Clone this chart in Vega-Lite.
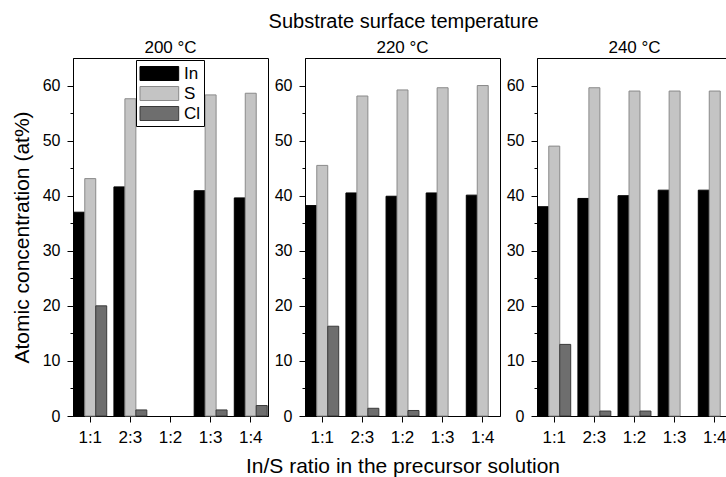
{
  "$schema": "https://vega.github.io/schema/vega-lite/v6.json",
  "background": "white",
  "padding": {"left": 10, "top": 11, "right": 0, "bottom": 4},
  "bounds": "flush",
  "spacing": 37,
  "title": {"text": "Substrate surface temperature", "fontSize": 20, "fontWeight": "normal", "anchor": "middle", "offset": 7, "dx": 32, "color": "black"},
  "config": {
    "font": "Liberation Sans",
    "view": {"stroke": "black", "strokeWidth": 1},
    "title": {"fontSize": 17, "fontWeight": "normal", "offset": 1, "color": "black"},
    "axis": {"domainColor": "black", "tickColor": "black", "labelColor": "black", "titleColor": "black", "grid": false, "labelFontSize": 16, "titleFontSize": 21, "titleFontWeight": "normal"}
  },
  "datasets": {
    "d": [
      {"temp": "200 °C", "ratio": "1:1", "element": "In", "value": 37.0},
      {"temp": "200 °C", "ratio": "1:1", "element": "S", "value": 43.1},
      {"temp": "200 °C", "ratio": "1:1", "element": "Cl", "value": 20.0},
      {"temp": "200 °C", "ratio": "2:3", "element": "In", "value": 41.6},
      {"temp": "200 °C", "ratio": "2:3", "element": "S", "value": 57.6},
      {"temp": "200 °C", "ratio": "2:3", "element": "Cl", "value": 1.1},
      {"temp": "200 °C", "ratio": "1:3", "element": "In", "value": 40.9},
      {"temp": "200 °C", "ratio": "1:3", "element": "S", "value": 58.3},
      {"temp": "200 °C", "ratio": "1:3", "element": "Cl", "value": 1.1},
      {"temp": "200 °C", "ratio": "1:4", "element": "In", "value": 39.6},
      {"temp": "200 °C", "ratio": "1:4", "element": "S", "value": 58.6},
      {"temp": "200 °C", "ratio": "1:4", "element": "Cl", "value": 1.9},
      {"temp": "220 °C", "ratio": "1:1", "element": "In", "value": 38.2},
      {"temp": "220 °C", "ratio": "1:1", "element": "S", "value": 45.5},
      {"temp": "220 °C", "ratio": "1:1", "element": "Cl", "value": 16.3},
      {"temp": "220 °C", "ratio": "2:3", "element": "In", "value": 40.5},
      {"temp": "220 °C", "ratio": "2:3", "element": "S", "value": 58.1},
      {"temp": "220 °C", "ratio": "2:3", "element": "Cl", "value": 1.4},
      {"temp": "220 °C", "ratio": "1:2", "element": "In", "value": 39.9},
      {"temp": "220 °C", "ratio": "1:2", "element": "S", "value": 59.2},
      {"temp": "220 °C", "ratio": "1:2", "element": "Cl", "value": 1.0},
      {"temp": "220 °C", "ratio": "1:3", "element": "In", "value": 40.5},
      {"temp": "220 °C", "ratio": "1:3", "element": "S", "value": 59.6},
      {"temp": "220 °C", "ratio": "1:4", "element": "In", "value": 40.1},
      {"temp": "220 °C", "ratio": "1:4", "element": "S", "value": 60.0},
      {"temp": "240 °C", "ratio": "1:1", "element": "In", "value": 38.0},
      {"temp": "240 °C", "ratio": "1:1", "element": "S", "value": 49.0},
      {"temp": "240 °C", "ratio": "1:1", "element": "Cl", "value": 13.0},
      {"temp": "240 °C", "ratio": "2:3", "element": "In", "value": 39.5},
      {"temp": "240 °C", "ratio": "2:3", "element": "S", "value": 59.6},
      {"temp": "240 °C", "ratio": "2:3", "element": "Cl", "value": 0.9},
      {"temp": "240 °C", "ratio": "1:2", "element": "In", "value": 40.0},
      {"temp": "240 °C", "ratio": "1:2", "element": "S", "value": 59.0},
      {"temp": "240 °C", "ratio": "1:2", "element": "Cl", "value": 0.9},
      {"temp": "240 °C", "ratio": "1:3", "element": "In", "value": 41.0},
      {"temp": "240 °C", "ratio": "1:3", "element": "S", "value": 59.0},
      {"temp": "240 °C", "ratio": "1:4", "element": "In", "value": 41.0},
      {"temp": "240 °C", "ratio": "1:4", "element": "S", "value": 59.0}
    ]
  },
  "data": {"name": "d"},
  "hconcat": [
    {
      "width": 195, "height": 358,
      "title": "200 °C",
      "transform": [{"filter": "datum.temp === '200 °C'"}],
      "mark": {"type": "bar", "strokeWidth": 1},
      "encoding": {
        "x": {"field": "ratio", "type": "nominal", "sort": null, "scale": {"domain": ["1:1", "2:3", "1:2", "1:3", "1:4"], "paddingInner": 0.18, "paddingOuter": 0.02}, "axis": {"title": null, "labelAngle": 0, "tickSize": 6, "labelPadding": 7, "labelFontSize": 17}},
        "xOffset": {"field": "element", "type": "nominal", "scale": {"domain": ["In", "S", "Cl"], "paddingInner": 0, "paddingOuter": 0}},
        "y": {"field": "value", "type": "quantitative", "scale": {"domain": [0, 65], "nice": false}, "axis": {"title": "Atomic concentration (at%)", "titlePadding": 10, "values": [0, 5, 10, 15, 20, 25, 30, 35, 40, 45, 50, 55, 60], "labelExpr": "datum.value % 10 === 0 ? datum.label : ''", "tickSize": {"condition": {"test": "datum.value % 10 === 0", "value": 6}, "value": 3}, "labelPadding": 7}},
        "fill": {"field": "element", "type": "nominal", "scale": {"domain": ["In", "S", "Cl"], "range": ["#000000", "#c4c4c4", "#6e6e6e"]},
          "legend": {"title": null, "orient": "none", "legendX": 63, "legendY": 2, "symbolType": "M-0.95,-0.7H2.92V0.7H-0.95Z", "symbolSize": 400, "symbolStrokeColor": "#222222", "symbolStrokeWidth": 1, "labelFontSize": 17, "labelColor": "black", "labelOffset": 24, "strokeColor": "black", "padding": 3, "rowPadding": 0, "fillColor": "white"}},
        "stroke": {"field": "element", "type": "nominal", "scale": {"domain": ["In", "S", "Cl"], "range": ["#000000", "#8a8a8a", "#3a3a3a"]}, "legend": null}
      }
    },
    {
      "width": 195, "height": 358,
      "title": "220 °C",
      "transform": [{"filter": "datum.temp === '220 °C'"}],
      "mark": {"type": "bar", "strokeWidth": 1},
      "encoding": {
        "x": {"field": "ratio", "type": "nominal", "sort": null, "scale": {"domain": ["1:1", "2:3", "1:2", "1:3", "1:4"], "paddingInner": 0.18, "paddingOuter": 0.02}, "axis": {"title": "In/S ratio in the precursor solution", "titlePadding": 10, "labelAngle": 0, "tickSize": 6, "labelPadding": 7, "labelFontSize": 17}},
        "xOffset": {"field": "element", "type": "nominal", "scale": {"domain": ["In", "S", "Cl"], "paddingInner": 0, "paddingOuter": 0}},
        "y": {"field": "value", "type": "quantitative", "scale": {"domain": [0, 65], "nice": false}, "axis": {"title": null, "values": [0, 5, 10, 15, 20, 25, 30, 35, 40, 45, 50, 55, 60], "labelExpr": "datum.value % 10 === 0 ? datum.label : ''", "tickSize": {"condition": {"test": "datum.value % 10 === 0", "value": 6}, "value": 3}, "labelPadding": 7}},
        "fill": {"field": "element", "type": "nominal", "scale": {"domain": ["In", "S", "Cl"], "range": ["#000000", "#c4c4c4", "#6e6e6e"]}},
        "stroke": {"field": "element", "type": "nominal", "scale": {"domain": ["In", "S", "Cl"], "range": ["#000000", "#8a8a8a", "#3a3a3a"]}, "legend": null}
      }
    },
    {
      "width": 195, "height": 358,
      "title": "240 °C",
      "transform": [{"filter": "datum.temp === '240 °C'"}],
      "mark": {"type": "bar", "strokeWidth": 1},
      "encoding": {
        "x": {"field": "ratio", "type": "nominal", "sort": null, "scale": {"domain": ["1:1", "2:3", "1:2", "1:3", "1:4"], "paddingInner": 0.18, "paddingOuter": 0.02}, "axis": {"title": null, "labelAngle": 0, "tickSize": 6, "labelPadding": 7, "labelFontSize": 17}},
        "xOffset": {"field": "element", "type": "nominal", "scale": {"domain": ["In", "S", "Cl"], "paddingInner": 0, "paddingOuter": 0}},
        "y": {"field": "value", "type": "quantitative", "scale": {"domain": [0, 65], "nice": false}, "axis": {"title": null, "values": [0, 5, 10, 15, 20, 25, 30, 35, 40, 45, 50, 55, 60], "labelExpr": "datum.value % 10 === 0 ? datum.label : ''", "tickSize": {"condition": {"test": "datum.value % 10 === 0", "value": 6}, "value": 3}, "labelPadding": 7}},
        "fill": {"field": "element", "type": "nominal", "scale": {"domain": ["In", "S", "Cl"], "range": ["#000000", "#c4c4c4", "#6e6e6e"]}},
        "stroke": {"field": "element", "type": "nominal", "scale": {"domain": ["In", "S", "Cl"], "range": ["#000000", "#8a8a8a", "#3a3a3a"]}, "legend": null}
      }
    }
  ],
  "resolve": {"scale": {"y": "independent", "x": "independent"}}
}
